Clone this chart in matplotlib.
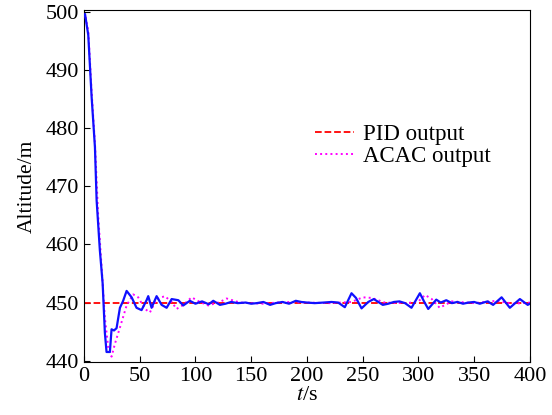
import numpy as np
import matplotlib
matplotlib.use("Agg")
import matplotlib.pyplot as plt

plt.rcParams['font.family'] = ['Liberation Serif', 'DejaVu Serif']
plt.rcParams['mathtext.fontset'] = 'stix'

# blue response
t_blue = [0, 1, 3.9, 6.9, 9.9, 11.4, 14.3, 16.8, 18.8, 20.3, 23.3, 24.8, 27, 29.3, 32.3,
          35, 38.3, 42.8, 47.2, 51.7, 56.2, 57.7, 60.7, 65.2, 69.7, 74.2, 78.7, 84.7,
          89.1, 95, 100, 106, 112, 116, 122, 127, 132, 138, 145, 150, 155, 161, 167, 172,
          178, 184, 190, 195, 200, 207, 215, 222, 228, 234, 240, 244, 249, 255, 260, 268,
          273, 278, 283, 288, 293.8, 301.3, 305, 308.8, 316, 320, 325, 330, 335, 340, 345,
          350, 355, 362, 367, 374.6, 382, 391, 398, 400]
y_blue = [499.3, 499.6, 496, 485.4, 476.7, 467.6, 459, 453.3, 444.8, 441.5, 441.5, 445.4, 445.2,
          445.6, 449.1, 450.2, 452.0, 450.9, 449.1, 448.7, 450.4, 451.1, 449.1, 451.1, 449.6,
          449.1, 450.6, 450.4, 449.5, 450.3, 449.8, 450.2, 449.7, 450.3, 449.6, 449.8, 450.1,
          449.9, 450.0, 449.8, 449.9, 450.1, 449.6, 449.9, 450.1, 449.8, 450.3, 450.1, 450.0,
          449.9, 450.0, 450.1, 450.0, 449.2, 451.6, 450.8, 449.0, 450.1, 450.6, 449.6, 449.8,
          450.1, 450.2, 449.9, 449.1, 451.6, 450.2, 448.9, 450.5, 450.0, 450.4, 449.9, 450.1,
          449.8, 450.0, 450.1, 449.8, 450.2, 449.6, 450.9, 449.1, 450.6, 449.6, 449.8]

# ACAC output
t_acac = [0, 1, 4, 7, 10, 12.8, 15.9, 18.8, 21.8, 24.8, 27.8, 32.3, 38.3, 44.2, 48.7,
          54.7, 59.2, 65.2, 72.6, 78.7, 83.1, 89.1, 96.6, 104, 111.5, 122, 128, 140,
          160, 180, 200, 220, 240, 250, 258, 270, 290, 300, 306, 312, 319, 330, 350,
          370, 385, 400]
y_acac = [499.3, 499.6, 496.5, 486, 477, 465, 456.1, 447.4, 442.3, 440.7, 442.9, 445.7, 449.5,
          451.4, 450.9, 448.9, 448.3, 450.6, 451.1, 450.1, 448.9, 449.6, 450.9, 450.1, 449.5,
          450.1, 450.7, 450.0, 449.8, 450.1, 450.0, 449.9, 450.1, 450.9, 450.8, 450.0, 449.9,
          450.2, 451.3, 450.6, 449.1, 450.2, 449.9, 450.3, 449.8, 450.0]

# PID output
t_pid = [0, 400]
y_pid = [450, 450]

fig = plt.figure(figsize=(5.52, 4.15), dpi=100)
ax = fig.add_axes([0.152, 0.128, 0.808, 0.848])

ax.plot(t_pid, y_pid, color='red', linestyle='--', linewidth=1.3, label='PID output', zorder=2)
ax.plot(t_acac, y_acac, color='magenta', linestyle=':', linewidth=1.4, label='ACAC output', zorder=3)
ax.plot(t_blue, y_blue, color='#1010ff', linewidth=1.6, zorder=4)

ax.set_xlim(0, 400)
ax.set_ylim(439.8, 500.3)
ax.set_xticks(np.arange(0, 401, 50))
ax.set_yticks(np.arange(440, 501, 10))
ax.tick_params(direction='in', labelsize=16, length=4, top=False, right=False)
ax.set_xlabel('$t$/s', fontsize=16, labelpad=0)
ax.set_ylabel('Altitude/m', fontsize=15.5, labelpad=6.5)

ax.legend(loc='upper left', bbox_to_anchor=(0.472, 0.735), frameon=False, fontsize=16.5,
          handlelength=1.7, handletextpad=0.4, labelspacing=0.05)

fig.savefig('out.png', dpi=100)
